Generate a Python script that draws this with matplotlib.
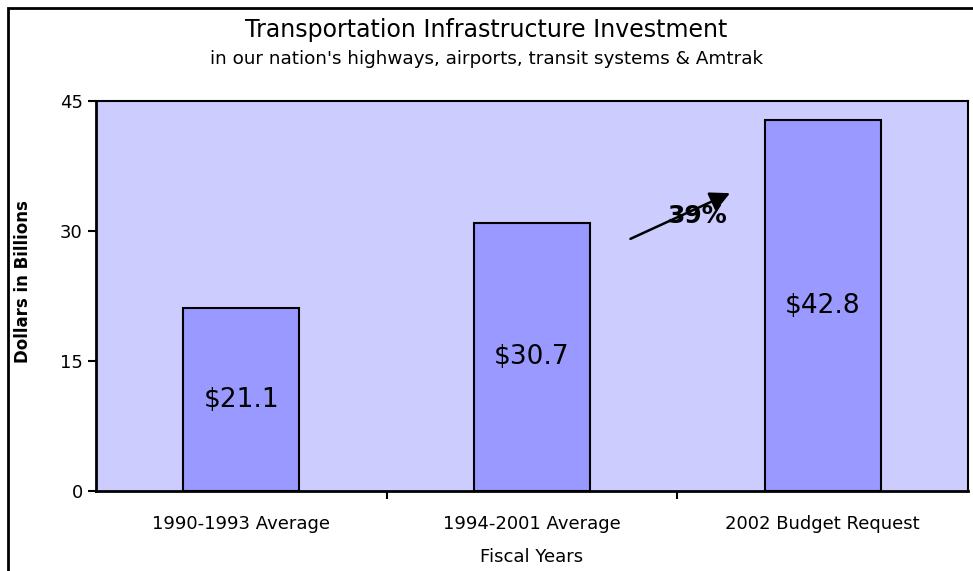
import matplotlib
matplotlib.use("Agg")
import matplotlib.pyplot as plt
from matplotlib.patches import Rectangle
import numpy as np

# data
categories = ['1990-1993 Average', '1994-2001 Average', '2002 Budget Request']
values = [21.1, 30.9, 42.8]
bar_labels = ['$21.1', '$30.7', '$42.8']
yticks = [0, 15, 30, 45]

plt.rcParams['font.family'] = ['DejaVu Sans']

fig = plt.figure(figsize=(9.73, 5.71), dpi=100)
fig.patch.set_facecolor('white')

# outer chart border
fig.patches.append(Rectangle((8 / 973, -0.05), 1.2, (563 / 571) + 0.05,
                             transform=fig.transFigure, fill=False,
                             edgecolor='black', linewidth=2))

ax = fig.add_axes([96 / 973, 80 / 571, 872 / 973, 390 / 571])
ax.set_facecolor('#CCCCFF')

x = np.arange(len(categories))
ax.bar(x, values, width=0.4, color='#9999FF', edgecolor='black', linewidth=1.5, zorder=2)

# labels inside bars
for xi, v, lab in zip(x, values, bar_labels):
    ax.text(xi, v / 2, lab, ha='center', va='center', fontsize=19, zorder=3)

ax.set_xlim(-0.5, 2.5)
ax.set_ylim(0, 45)
ax.set_yticks(yticks)
ax.set_xticks(x)
ax.set_xticklabels(categories)
ax.set_xticks([0.5, 1.5], minor=True)
ax.tick_params(axis='x', which='major', length=0, pad=17, labelsize=13)
ax.tick_params(axis='x', which='minor', length=6, width=1.5, direction='out')
ax.tick_params(axis='y', length=6, width=1.5, direction='out', labelsize=13)

for side in ['left', 'bottom']:
    ax.spines[side].set_linewidth(2)
for side in ['top', 'right']:
    ax.spines[side].set_linewidth(1.5)

ax.set_xlabel('Fiscal Years', fontsize=13, labelpad=11)
ax.set_ylabel('Dollars in Billions', fontsize=12, fontweight='bold')
ax.yaxis.set_label_coords(-0.073, 0.538)

# growth arrow
ax.annotate('', xy=(1.69, 34.5), xytext=(1.33, 28.96),
            arrowprops=dict(arrowstyle='-|>', color='black', lw=1.8,
                            mutation_scale=30), zorder=4)
ax.text(1.567, 31.7, '39%', ha='center', va='center', fontsize=18,
        fontweight='bold', zorder=5)

fig.text(0.5, 1 - 30 / 571, 'Transportation Infrastructure Investment',
         ha='center', va='center', fontsize=17)
fig.text(0.5, 1 - 59 / 571, "in our nation's highways, airports, transit systems & Amtrak",
         ha='center', va='center', fontsize=13.2)

fig.savefig('out.png', dpi=100)
